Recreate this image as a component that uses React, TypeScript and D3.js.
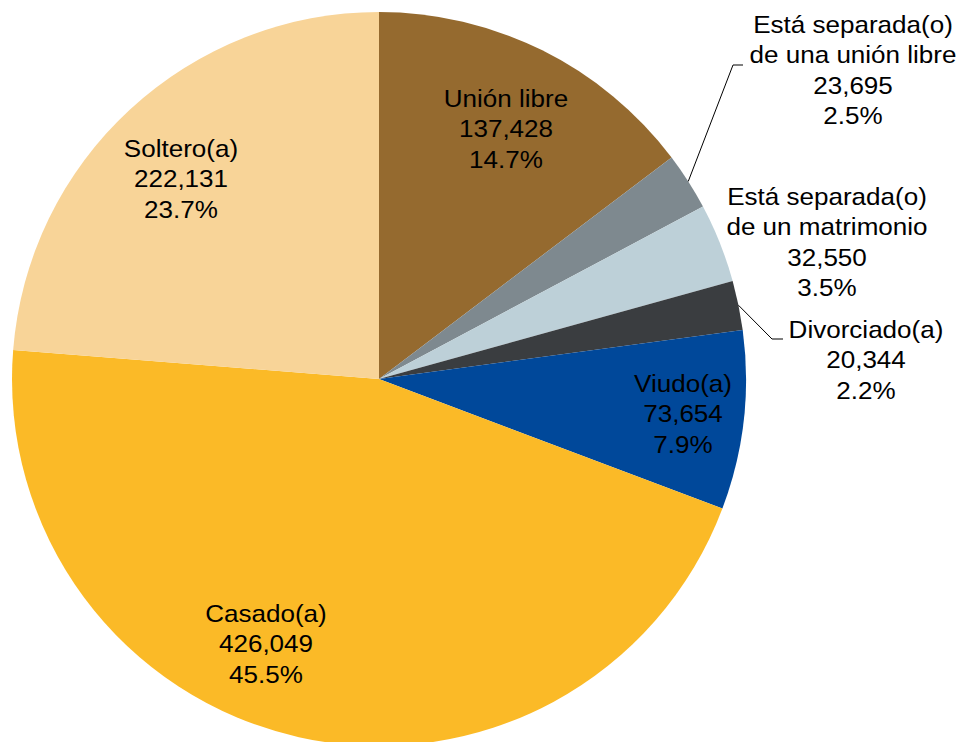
import React from "react";
import * as d3 from "d3";

// Estado conyugal (clockwise from 12 o'clock)
const categories = [
  "Unión libre",
  "Está separada(o)\nde una unión libre",
  "Está separada(o)\nde un matrimonio",
  "Divorciado(a)",
  "Viudo(a)",
  "Casado(a)",
  "Soltero(a)",
];
const values = [137428, 23695, 32550, 20344, 73654, 426049, 222131];
const colors = ["#956A2F", "#7E898F", "#BDD0D8", "#3A3D40", "#00489A", "#FBBA27", "#F8D498"];

// label anchor (center x, first baseline y) per slice
const labelPos: Record<string, [number, number]> = {
  "Unión libre": [506, 107],
  "Está separada(o)\nde una unión libre": [853, 33],
  "Está separada(o)\nde un matrimonio": [827, 205],
  "Divorciado(a)": [866, 338],
  "Viudo(a)": [683, 392],
  "Casado(a)": [266, 622],
  "Soltero(a)": [181, 157],
};
// leader line elbows for outside labels
const leaders: Record<string, [number, number, number]> = {
  "Está separada(o)\nde una unión libre": [733, 65, 743],
  "Divorciado(a)": [772, 339, 783],
};

const App = () => {
  const width = 964;
  const height = 742;
  const cx = 379;
  const cy = 379;
  const r = 367;
  const lineH = 30.5;

  const total = d3.sum(values);
  const fmtN = d3.format(",");
  const fmtP = d3.format(".1%");

  const data = categories.map((c, i) => ({ name: c, value: values[i], color: colors[i] }));
  const pie = d3.pie<any>().sort(null).value((d) => d.value).startAngle(0).endAngle(2 * Math.PI);
  const arcs = pie(data);
  const arc = d3.arc<any>().innerRadius(0).outerRadius(r);

  return (
    <svg
      width={width}
      height={height}
      style={{ position: "absolute", left: 0, top: 0, background: "#fff" }}
      fontFamily="'Liberation Sans', Arial, sans-serif"
      fontSize={24}
    >
      <g transform={`translate(${cx},${cy})`}>
        {arcs.map((a, i) => (
          <path key={i} d={arc(a) as string} fill={a.data.color} />
        ))}
      </g>
      {arcs.map((a, i) => {
        const ld = leaders[a.data.name];
        if (!ld) return null;
        const mid = (a.startAngle + a.endAngle) / 2;
        const sx = cx + r * Math.sin(mid);
        const sy = cy - r * Math.cos(mid);
        return (
          <polyline
            key={"l" + i}
            points={`${sx},${sy} ${ld[0]},${ld[1]} ${ld[2]},${ld[1]}`}
            fill="none"
            stroke="#000"
            strokeWidth={1}
          />
        );
      })}
      {arcs.map((a, i) => {
        const [x, y] = labelPos[a.data.name];
        const lines = [...a.data.name.split("\n"), fmtN(a.data.value), fmtP(a.data.value / total)];
        return (
          <text key={"t" + i} transform={`translate(${x},${y}) scale(1.085,1)`} textAnchor="middle" fill="#000">
            {lines.map((t, j) => (
              <tspan key={j} x={0} y={j * lineH}>
                {t}
              </tspan>
            ))}
          </text>
        );
      })}
    </svg>
  );
};

export default App;
